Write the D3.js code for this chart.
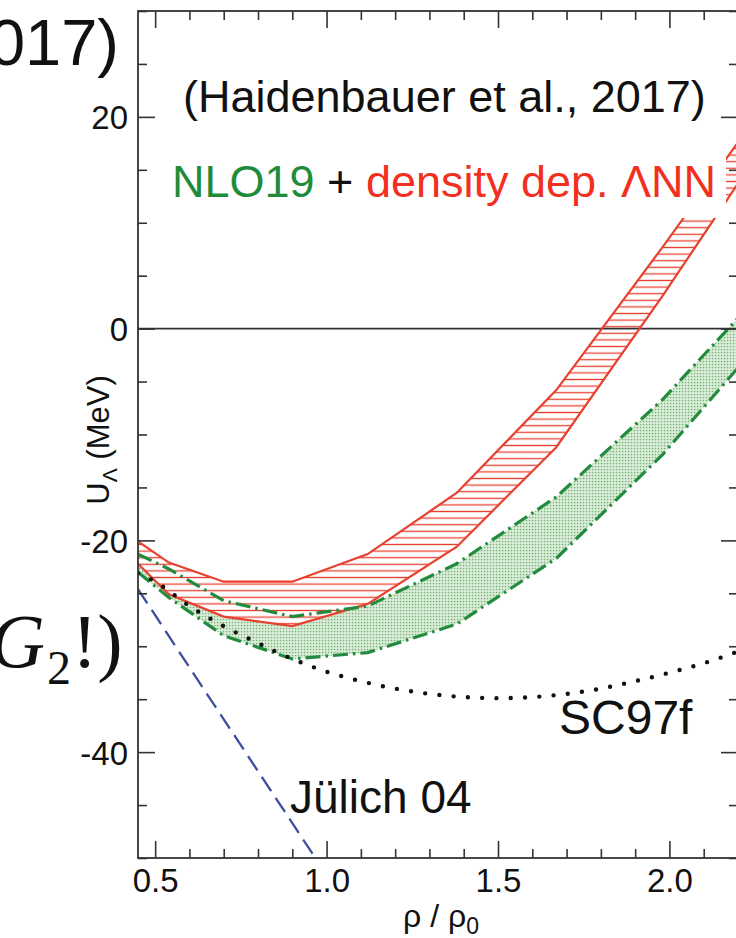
<!DOCTYPE html>
<html><head><meta charset="utf-8">
<script src="https://cdn.jsdelivr.net/npm/d3@7"></script>
<style>
html,body{margin:0;padding:0;background:#fff;}
svg{display:block;}
text{font-family:"Liberation Sans",Arial,Helvetica,sans-serif;}
</style></head><body>
<svg id="chart" width="736" height="938"></svg>
<script>
// Lambda single-particle potential U_Λ (MeV) in nuclear matter vs rho/rho0
// density points at which the band edges are given
const rhoGrid      = [0.45, 0.54, 0.70, 0.90, 1.12, 1.38, 1.67, 1.98, 2.20];
// NLO19 + density dependent ΛNN force (red hatched band)
const nloDensUpper = [-20.1, -22.1, -23.9, -23.9, -21.3, -15.5, -5.8, 7.7, 17.6];
const nloDensLower = [-22.2, -25.1, -27.2, -28.1, -26.0, -20.6, -11.2, 3.1, 13.7];
// NLO19 alone (green dotted band)
const nlo19Upper   = [-21.3, -22.7, -25.7, -27.2, -26.2, -22.2, -15.9, -6.7, 1.0];
const nlo19Lower   = [-23.0, -25.4, -29.0, -31.2, -30.6, -27.9, -21.7, -11.9, -3.7];
// Nijmegen SC97f
const sc97fRho = [0.45, 0.5, 0.6, 0.7, 0.8, 0.9, 1.0, 1.1, 1.2, 1.3, 1.4, 1.5, 1.6, 1.7, 1.8, 1.9, 2.0, 2.1, 2.2];
const sc97fU   = [-23.1, -23.9, -26.2, -28.1, -29.7, -31.2, -32.4, -33.3, -34.0, -34.5, -34.8, -34.9, -34.8, -34.5, -34.0, -33.3, -32.5, -31.6, -30.5];
// Jülich 04
const julichRho = [0.45, 0.6, 0.8, 1.0];
const julichU   = [-24.6, -32.0, -41.8, -51.6];
// axis ticks
const xTickValues = [0.5, 1.0, 1.5, 2.0];
const xTickLabels = ["0.5", "1.0", "1.5", "2.0"];
const yTickValues = [20, 0, -20, -40];
const yTickLabels = ["20", "0", "-20", "-40"];

const svg = d3.select("#chart");
const L = 138, R = 738, T = 11, B = 858;
const x = d3.scaleLinear().domain([0.45, 2.2]).range([L, R]);
const y = d3.scaleLinear().domain([-50, 30]).range([B, T]);

const defs = svg.append("defs");
defs.append("clipPath").attr("id", "plotClip")
  .append("rect").attr("x", L).attr("y", T).attr("width", R - L).attr("height", B - T);

// horizontal red hatching
const hatch = defs.append("pattern").attr("id", "hatch")
  .attr("patternUnits", "userSpaceOnUse").attr("width", 12).attr("height", 6.6);
hatch.append("rect").attr("width", 12).attr("height", 6.6).attr("fill", "#fff");
hatch.append("line").attr("x1", 0).attr("x2", 12).attr("y1", 3.3).attr("y2", 3.3)
  .attr("stroke", "#e8402f").attr("stroke-width", 1.3);

// fine green stipple
const stip = defs.append("pattern").attr("id", "stipple")
  .attr("patternUnits", "userSpaceOnUse").attr("width", 3).attr("height", 3);
stip.append("rect").attr("width", 3).attr("height", 3).attr("fill", "#e2efe0");
stip.append("rect").attr("x", 0.8).attr("y", 0.8).attr("width", 1.5).attr("height", 1.5).attr("fill", "#6fb470");

const plot = svg.append("g").attr("clip-path", "url(#plotClip)");

const bandArea = (lo, hi) => d3.area()
  .x((d, i) => x(rhoGrid[i]))
  .y0((d, i) => y(lo[i]))
  .y1((d, i) => y(hi[i]))(rhoGrid);
const edge = (vals) => d3.line()
  .x((d, i) => x(rhoGrid[i]))
  .y((d, i) => y(vals[i]))(rhoGrid);

// NLO19 band
plot.append("path").attr("d", bandArea(nlo19Lower, nlo19Upper)).attr("fill", "url(#stipple)");
// NLO19 + ΛNN band on top
plot.append("path").attr("d", bandArea(nloDensLower, nloDensUpper)).attr("fill", "url(#hatch)");

// zero line
plot.append("line").attr("x1", L).attr("x2", R).attr("y1", y(0)).attr("y2", y(0))
  .attr("stroke", "#333").attr("stroke-width", 1.6);

[nloDensUpper, nloDensLower].forEach(v => plot.append("path").attr("d", edge(v))
  .attr("fill", "none").attr("stroke", "#e8402f").attr("stroke-width", 2.2));
[nlo19Upper, nlo19Lower].forEach(v => plot.append("path").attr("d", edge(v))
  .attr("fill", "none").attr("stroke", "#238b3e").attr("stroke-width", 3.2)
  .attr("stroke-dasharray", "15 5 2.5 5"));

// SC97f dotted curve
plot.append("path")
  .attr("d", d3.line().curve(d3.curveMonotoneX)
    .x((d, i) => x(sc97fRho[i])).y((d, i) => y(sc97fU[i]))(sc97fRho))
  .attr("fill", "none").attr("stroke", "#111").attr("stroke-width", 4.4)
  .attr("stroke-linecap", "round").attr("stroke-dasharray", "0 14.3");

// Jülich 04 dashed line
plot.append("path")
  .attr("d", d3.line().x((d, i) => x(julichRho[i])).y((d, i) => y(julichU[i]))(julichRho))
  .attr("fill", "none").attr("stroke", "#3b4f9e").attr("stroke-width", 2.3)
  .attr("stroke-dasharray", "17 8");

// axes
const axisCol = "#333";
const xMinor = d3.range(5, 23).map(v => v / 10).filter(v => v % 0.5 !== 0);
const yMinor = d3.range(-50, 31, 5).filter(v => v % 20 !== 0);
function styleAxis(g) {
  g.select(".domain").remove();
  g.selectAll("line").attr("stroke", axisCol).attr("stroke-width", 1.6);
  g.selectAll("text").attr("fill", "#111").attr("font-size", 33)
    .attr("font-family", '"Liberation Sans", Arial, Helvetica, sans-serif');
}
// bottom
svg.append("g").attr("transform", `translate(0,${B})`)
  .call(d3.axisBottom(x).tickValues(xMinor).tickSize(-9).tickFormat("")).call(styleAxis);
svg.append("g").attr("transform", `translate(0,${B})`)
  .call(d3.axisBottom(x).tickValues(xTickValues).tickSize(-17).tickPadding(11)
    .tickFormat((d, i) => xTickLabels[i])).call(styleAxis);
// top
svg.append("g").attr("transform", `translate(0,${T})`)
  .call(d3.axisTop(x).tickValues(xMinor).tickSize(-9).tickFormat("")).call(styleAxis);
svg.append("g").attr("transform", `translate(0,${T})`)
  .call(d3.axisTop(x).tickValues(xTickValues).tickSize(-17).tickFormat("")).call(styleAxis);
// left
svg.append("g").attr("transform", `translate(${L},0)`)
  .call(d3.axisLeft(y).tickValues(yMinor).tickSize(-9).tickFormat("")).call(styleAxis);
svg.append("g").attr("transform", `translate(${L},0)`)
  .call(d3.axisLeft(y).tickValues(yTickValues).tickSize(-17).tickPadding(10)
    .tickFormat((d, i) => yTickLabels[i])).call(styleAxis)
  .selectAll("text").attr("dy", "0.36em");
// right
svg.append("g").attr("transform", `translate(${R},0)`)
  .call(d3.axisRight(y).tickValues(yMinor).tickSize(-9).tickFormat("")).call(styleAxis);
svg.append("g").attr("transform", `translate(${R},0)`)
  .call(d3.axisRight(y).tickValues(yTickValues).tickSize(-17).tickFormat("")).call(styleAxis);
// frame
svg.append("rect").attr("x", L).attr("y", T).attr("width", R - L).attr("height", B - T)
  .attr("fill", "none").attr("stroke", axisCol).attr("stroke-width", 1.8);

// axis titles
const yt = svg.append("text").attr("transform", "translate(109,440) rotate(-90)")
  .attr("text-anchor", "middle").attr("font-size", 31).attr("fill", "#111");
yt.append("tspan").text("U");
yt.append("tspan").attr("font-size", 21).attr("dy", 8).text("Λ");
yt.append("tspan").attr("dy", -8).text(" (MeV)");

const xt = svg.append("text").attr("x", 441).attr("y", 927)
  .attr("text-anchor", "middle").attr("font-size", 32).attr("fill", "#111");
xt.append("tspan").text("ρ / ρ");
xt.append("tspan").attr("font-size", 23).attr("dy", 7).text("0");

// annotations
svg.append("text").attr("x", 183).attr("y", 112).attr("font-size", 45).attr("fill", "#111")
  .text("(Haidenbauer et al., 2017)");
svg.append("rect").attr("x", 163).attr("y", 150).attr("width", 563).attr("height", 68).attr("fill", "#fff");
const lab = svg.append("text").attr("x", 172).attr("y", 197).attr("font-size", 45);
lab.append("tspan").attr("fill", "#1f8c3b").text("NLO19");
lab.append("tspan").attr("fill", "#111").text(" + ");
lab.append("tspan").attr("fill", "#f2301f").text("density dep. ΛNN");

svg.append("text").attr("x", 559).attr("y", 734).attr("font-size", 48).attr("fill", "#111").text("SC97f");
svg.append("text").attr("x", 290).attr("y", 813).attr("font-size", 46).attr("fill", "#111").text("Jülich 04");

// slide text around the figure
svg.append("text").attr("x", 119).attr("y", 65).attr("text-anchor", "end")
  .attr("font-size", 65).attr("fill", "#111").text("017)");
const g2 = svg.append("text").attr("y", 667).attr("fill", "#111")
  .style("font-family", '"Liberation Serif", "Times New Roman", serif').attr("font-size", 76);
g2.append("tspan").attr("x", -10).attr("font-style", "italic").text("G");
g2.append("tspan").attr("x", 47).attr("dy", 17).attr("font-size", 48).text("2");
g2.append("tspan").attr("x", 72).attr("dy", -17).text("!)");
</script>
</body></html>
